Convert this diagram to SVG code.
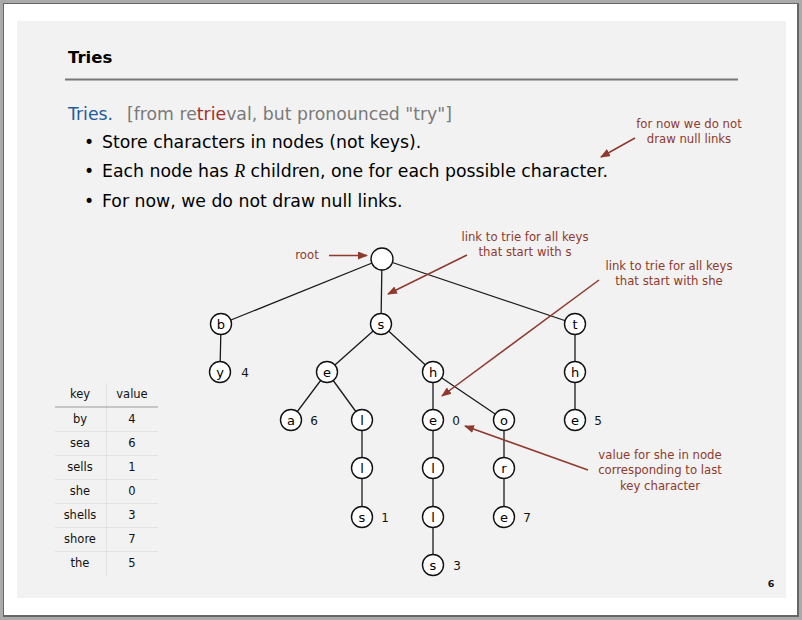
<svg xmlns="http://www.w3.org/2000/svg" width="802" height="620" viewBox="0 0 802 620">
<defs>
<style>
.body{font-family:"DejaVu Sans",sans-serif;font-size:17.3px;fill:#000}
.ann{font-family:"DejaVu Sans",sans-serif;font-size:11.7px;fill:#8e3a2e;text-anchor:middle}
.edge{stroke:#1a1a1a;stroke-width:1.3;fill:none}
.arr{stroke:#8e3a2e;stroke-width:1.5;fill:none;marker-end:url(#ah)}
.node circle{fill:#fff;stroke:#111;stroke-width:1.4}
.node text{font-family:"DejaVu Sans",sans-serif;font-size:13px;text-anchor:middle;fill:#000}
.val{font-family:"DejaVu Sans",sans-serif;font-size:12px;text-anchor:middle;fill:#111}
.tbl{font-family:"DejaVu Sans",sans-serif;font-size:11.5px;text-anchor:middle;fill:#111}
</style>
<marker id="ah" markerWidth="10" markerHeight="8" refX="9" refY="4" orient="auto" markerUnits="userSpaceOnUse">
<path d="M0,0 L10,4 L0,8 Z" fill="#8e3a2e"/>
</marker>
</defs>
<rect x="0" y="0" width="802" height="620" fill="#aaaaaa"/>
<rect x="3" y="3" width="796" height="614" fill="#666"/>
<rect x="4" y="4" width="793" height="611" fill="#ffffff"/>
<rect x="17" y="21" width="769" height="577" fill="#f2f2f2"/>

<g id="title">
<text x="68" y="63" font-family="DejaVu Sans, sans-serif" font-weight="bold" font-size="16.5" fill="#000">Tries</text>
<line x1="65" y1="79.5" x2="738" y2="79.5" stroke="#777" stroke-width="2"/>
</g>

<g id="intro">
<text class="body" x="68" y="120"><tspan fill="#1f5c99">Tries.</tspan><tspan fill="#7a7a7a" x="127">[from re</tspan><tspan fill="#a0302a">trie</tspan><tspan fill="#7a7a7a">val, but pronounced "try"]</tspan></text>
<text class="body" x="84" y="148">•</text>
<text class="body" x="102" y="148">Store characters in nodes (not keys).</text>
<text class="body" x="84" y="177">•</text>
<text class="body" x="102" y="177">Each node has <tspan font-family="Liberation Serif, serif" font-style="italic" font-size="18">R</tspan> children, one for each possible character.</text>
<text class="body" x="84" y="207">•</text>
<text class="body" x="102" y="207">For now, we do not draw null links.</text>
</g>

<g id="connectors">
<line class="edge" x1="382" y1="259" x2="221" y2="324"/>
<line class="edge" x1="382" y1="259" x2="381" y2="324"/>
<line class="edge" x1="382" y1="259" x2="575" y2="324"/>
<line class="edge" x1="221" y1="324" x2="220" y2="372"/>
<line class="edge" x1="381" y1="324" x2="327" y2="372"/>
<line class="edge" x1="381" y1="324" x2="433" y2="372"/>
<line class="edge" x1="575" y1="324" x2="575" y2="372"/>
<line class="edge" x1="327" y1="372" x2="291" y2="420"/>
<line class="edge" x1="327" y1="372" x2="362" y2="420"/>
<line class="edge" x1="433" y1="372" x2="433" y2="420"/>
<line class="edge" x1="433" y1="372" x2="504" y2="420"/>
<line class="edge" x1="575" y1="372" x2="575" y2="420"/>
<line class="edge" x1="362" y1="420" x2="362" y2="468"/>
<line class="edge" x1="362" y1="468" x2="362" y2="517"/>
<line class="edge" x1="433" y1="420" x2="433" y2="468"/>
<line class="edge" x1="433" y1="468" x2="433" y2="517"/>
<line class="edge" x1="433" y1="517" x2="433" y2="565"/>
<line class="edge" x1="504" y1="420" x2="504" y2="468"/>
<line class="edge" x1="504" y1="468" x2="504" y2="517"/>
</g>

<g id="n-root" class="node"><circle cx="382" cy="259" r="11"/></g>
<g id="n-b" class="node"><circle cx="221" cy="324" r="10.5"/><text x="221" y="328.5">b</text></g>
<g id="n-s" class="node"><circle cx="381" cy="324" r="10.5"/><text x="381" y="328.5">s</text></g>
<g id="n-t" class="node"><circle cx="575" cy="324" r="10.5"/><text x="575" y="328.5">t</text></g>
<g id="n-by" class="node"><circle cx="220" cy="372" r="10.5"/><text x="220" y="376.5">y</text></g>
<g id="n-se" class="node"><circle cx="327" cy="372" r="10.5"/><text x="327" y="376.5">e</text></g>
<g id="n-sh" class="node"><circle cx="433" cy="372" r="10.5"/><text x="433" y="376.5">h</text></g>
<g id="n-th" class="node"><circle cx="575" cy="372" r="10.5"/><text x="575" y="376.5">h</text></g>
<g id="n-sea" class="node"><circle cx="291" cy="420" r="10.5"/><text x="291" y="424.5">a</text></g>
<g id="n-sel" class="node"><circle cx="362" cy="420" r="10.5"/><text x="362" y="424.5">l</text></g>
<g id="n-she" class="node"><circle cx="433" cy="420" r="10.5"/><text x="433" y="424.5">e</text></g>
<g id="n-sho" class="node"><circle cx="504" cy="420" r="10.5"/><text x="504" y="424.5">o</text></g>
<g id="n-the" class="node"><circle cx="575" cy="420" r="10.5"/><text x="575" y="424.5">e</text></g>
<g id="n-sell" class="node"><circle cx="362" cy="468" r="10.5"/><text x="362" y="472.5">l</text></g>
<g id="n-shel" class="node"><circle cx="433" cy="468" r="10.5"/><text x="433" y="472.5">l</text></g>
<g id="n-shor" class="node"><circle cx="504" cy="468" r="10.5"/><text x="504" y="472.5">r</text></g>
<g id="n-sells" class="node"><circle cx="362" cy="517" r="10.5"/><text x="362" y="521.5">s</text></g>
<g id="n-shell" class="node"><circle cx="433" cy="517" r="10.5"/><text x="433" y="521.5">l</text></g>
<g id="n-shore" class="node"><circle cx="504" cy="517" r="10.5"/><text x="504" y="521.5">e</text></g>
<g id="n-shells" class="node"><circle cx="433" cy="565" r="10.5"/><text x="433" y="569.5">s</text></g>

<g id="values">
<text class="val" x="245" y="376.5">4</text>
<text class="val" x="314" y="424.5">6</text>
<text class="val" x="456" y="424.5">0</text>
<text class="val" x="598" y="424.5">5</text>
<text class="val" x="385" y="521.5">1</text>
<text class="val" x="527" y="521.5">7</text>
<text class="val" x="457" y="569.5">3</text>
</g>

<g id="annotations">
<text class="ann" x="689" y="128">for now we do not</text>
<text class="ann" x="689" y="143">draw null links</text>
<line class="arr" x1="635" y1="138" x2="601" y2="157"/>
<text class="ann" x="307" y="259">root</text>
<line class="arr" x1="329" y1="255.5" x2="367" y2="255.5"/>
<text class="ann" x="525" y="241">link to trie for all keys</text>
<text class="ann" x="525" y="256">that start with s</text>
<line class="arr" x1="467" y1="255" x2="388" y2="294"/>
<text class="ann" x="669" y="270">link to trie for all keys</text>
<text class="ann" x="669" y="285">that start with she</text>
<line class="arr" x1="599" y1="280" x2="442" y2="396"/>
<text class="ann" x="660" y="459">value for she in node</text>
<text class="ann" x="660" y="474">corresponding to last</text>
<text class="ann" x="660" y="490">key character</text>
<line class="arr" x1="588" y1="470" x2="465" y2="426"/>
</g>

<g id="table">
<line x1="106.5" y1="383" x2="106.5" y2="576" stroke="#e2e2e2" stroke-width="1"/>
<line x1="55" y1="407" x2="158" y2="407" stroke="#999" stroke-width="1.2"/>
<g stroke="#e2e2e2" stroke-width="1">
<line x1="55" y1="431.5" x2="158" y2="431.5"/>
<line x1="55" y1="455.5" x2="158" y2="455.5"/>
<line x1="55" y1="479.5" x2="158" y2="479.5"/>
<line x1="55" y1="503.5" x2="158" y2="503.5"/>
<line x1="55" y1="527.5" x2="158" y2="527.5"/>
<line x1="55" y1="551.5" x2="158" y2="551.5"/>
</g>
<text class="tbl" x="80" y="398">key</text>
<text class="tbl" x="132" y="398">value</text>
<text class="tbl" x="80" y="423">by</text><text class="tbl" x="132" y="423">4</text>
<text class="tbl" x="80" y="447">sea</text><text class="tbl" x="132" y="447">6</text>
<text class="tbl" x="80" y="471">sells</text><text class="tbl" x="132" y="471">1</text>
<text class="tbl" x="80" y="495">she</text><text class="tbl" x="132" y="495">0</text>
<text class="tbl" x="80" y="519">shells</text><text class="tbl" x="132" y="519">3</text>
<text class="tbl" x="80" y="543">shore</text><text class="tbl" x="132" y="543">7</text>
<text class="tbl" x="80" y="567">the</text><text class="tbl" x="132" y="567">5</text>
</g>

<text x="771" y="587" font-family="DejaVu Sans, sans-serif" font-weight="bold" font-size="9.5" text-anchor="middle" fill="#111">6</text>
</svg>
